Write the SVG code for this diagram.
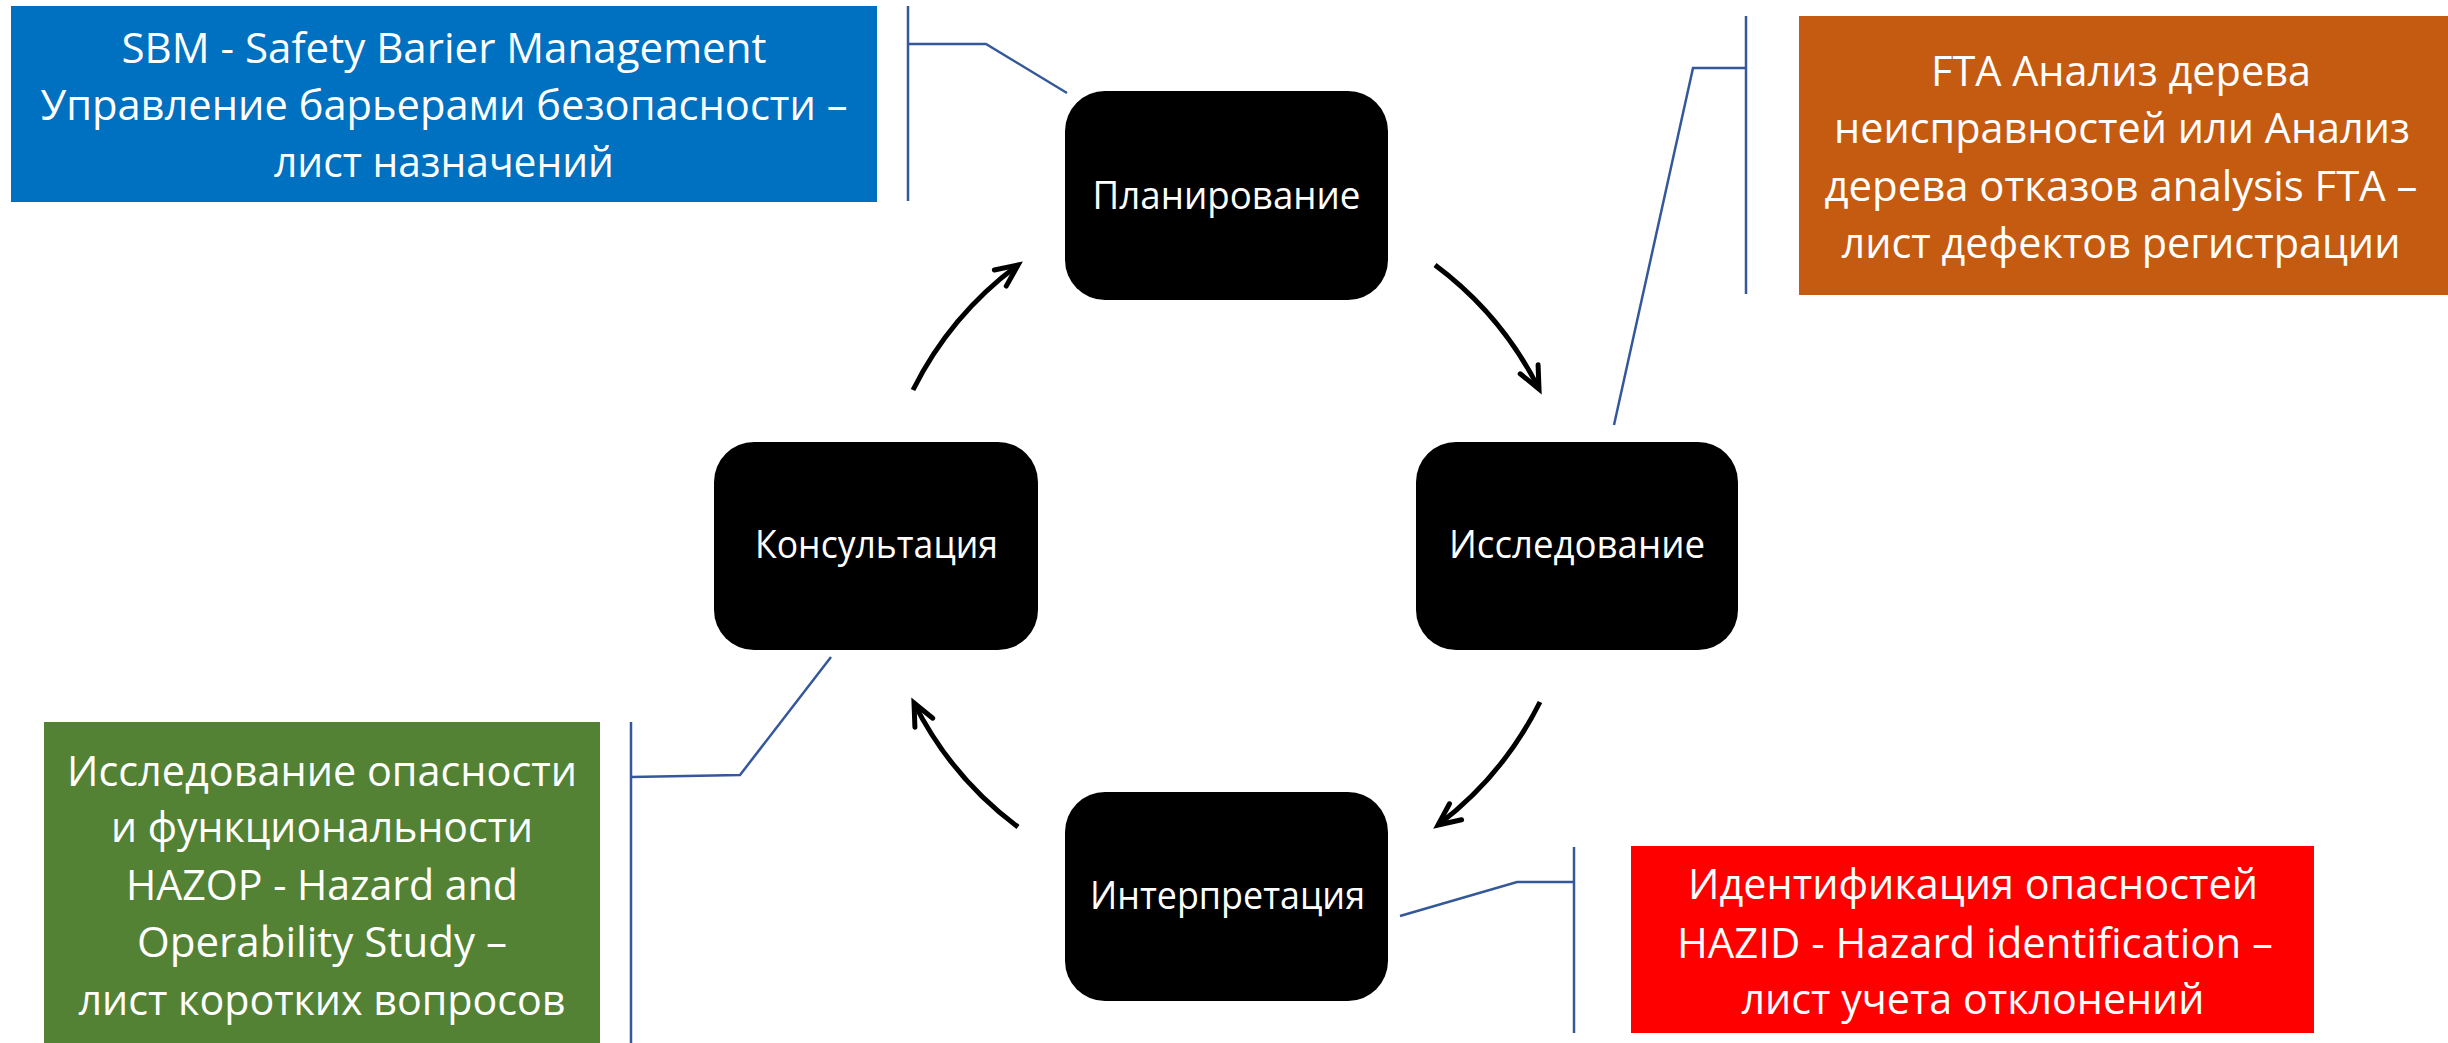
<svg xmlns="http://www.w3.org/2000/svg" width="2448" height="1043" viewBox="0 0 2448 1043">
<style>
.node rect{fill:#000}
.nt{font-family:"Open Sans","Noto Sans","DejaVu Sans",sans-serif;font-size:39px;fill:#fff;text-anchor:middle}
.ct{font-family:"Open Sans","Noto Sans","DejaVu Sans",sans-serif;font-size:42px;fill:#fff;text-anchor:middle}
.arrow{fill:none;stroke:#000;stroke-width:5}
.lead{fill:none;stroke:#35589A;stroke-width:2.5}
</style>
<defs>
<marker id="ah" markerUnits="userSpaceOnUse" viewBox="-30 -15 35 30" refX="0" refY="0" markerWidth="35" markerHeight="30" orient="auto" overflow="visible">
<path d="M-22,-10 L0,0 L-22,10" fill="none" stroke="#000" stroke-width="5" stroke-linejoin="miter" stroke-linecap="round"/>
</marker>
</defs>
<rect width="2448" height="1043" fill="#fff"/>

<g id="callout-sbm">
<rect x="11" y="6" width="866" height="196" fill="#0070C0"/>
<text class="ct" x="444" y="63" textLength="645" lengthAdjust="spacingAndGlyphs">SBM - Safety Barier Management</text>
<text class="ct" x="444" y="120" textLength="807" lengthAdjust="spacingAndGlyphs">Управление барьерами безопасности –</text>
<text class="ct" x="444" y="177" textLength="340" lengthAdjust="spacingAndGlyphs">лист назначений</text>
</g>

<g id="callout-fta">
<rect x="1799" y="16" width="649" height="279" fill="#C55A11"/>
<text class="ct" x="2121" y="86" textLength="380" lengthAdjust="spacingAndGlyphs">FTA Анализ дерева</text>
<text class="ct" x="2122" y="143" textLength="576" lengthAdjust="spacingAndGlyphs">неисправностей или Анализ</text>
<text class="ct" x="2121" y="201" textLength="593" lengthAdjust="spacingAndGlyphs">дерева отказов analysis FTA –</text>
<text class="ct" x="2121" y="258" textLength="559" lengthAdjust="spacingAndGlyphs">лист дефектов регистрации</text>
</g>

<g id="callout-hazop">
<rect x="44" y="722" width="556" height="321" fill="#548235"/>
<text class="ct" x="322" y="786" textLength="510" lengthAdjust="spacingAndGlyphs">Исследование опасности</text>
<text class="ct" x="322" y="842" textLength="422" lengthAdjust="spacingAndGlyphs">и функциональности</text>
<text class="ct" x="322" y="900" textLength="392" lengthAdjust="spacingAndGlyphs">HAZOP - Hazard and</text>
<text class="ct" x="322" y="957" textLength="370" lengthAdjust="spacingAndGlyphs">Operability Study –</text>
<text class="ct" x="322" y="1015" textLength="487" lengthAdjust="spacingAndGlyphs">лист коротких вопросов</text>
</g>

<g id="callout-hazid">
<rect x="1631" y="846" width="683" height="187" fill="#FF0000"/>
<text class="ct" x="1973" y="899" textLength="570" lengthAdjust="spacingAndGlyphs">Идентификация опасностей</text>
<text class="ct" x="1975" y="958" textLength="596" lengthAdjust="spacingAndGlyphs">HAZID - Hazard identification –</text>
<text class="ct" x="1973" y="1014" textLength="463" lengthAdjust="spacingAndGlyphs">лист учета отклонений</text>
</g>

<g id="node-planning" class="node">
<rect x="1065" y="91" width="323" height="209" rx="40" ry="40"/>
<text class="nt" x="1226.5" y="209" textLength="268" lengthAdjust="spacingAndGlyphs">Планирование</text>
</g>
<g id="node-research" class="node">
<rect x="1416" y="442" width="322" height="208" rx="40" ry="40"/>
<text class="nt" x="1577" y="558" textLength="256" lengthAdjust="spacingAndGlyphs">Исследование</text>
</g>
<g id="node-interpretation" class="node">
<rect x="1065" y="792" width="323" height="209" rx="40" ry="40"/>
<text class="nt" x="1227.5" y="909" textLength="275" lengthAdjust="spacingAndGlyphs">Интерпретация</text>
</g>
<g id="node-consultation" class="node">
<rect x="714" y="442" width="324" height="208" rx="40" ry="40"/>
<text class="nt" x="876.5" y="558" textLength="243" lengthAdjust="spacingAndGlyphs">Консультация</text>
</g>

<g id="connectors">
<path class="arrow" d="M1435,265 A350,350 0 0 1 1539,389" marker-end="url(#ah)"/>
<path class="arrow" d="M1540,702 A350,350 0 0 1 1438,825" marker-end="url(#ah)"/>
<path class="arrow" d="M1018,827 A350,350 0 0 1 914,703" marker-end="url(#ah)"/>
<path class="arrow" d="M913,390 A350,350 0 0 1 1018,265" marker-end="url(#ah)"/>

<path class="lead" d="M908,6 V201 M908,44 H986 L1067,93"/>
<path class="lead" d="M1746,16 V294 M1746,68 H1693 L1614,425"/>
<path class="lead" d="M631,722 V1043 M631,777 L740,775 L831,657"/>
<path class="lead" d="M1574,847 V1033 M1574,882 H1517 L1400,916"/>
</g>
</svg>
